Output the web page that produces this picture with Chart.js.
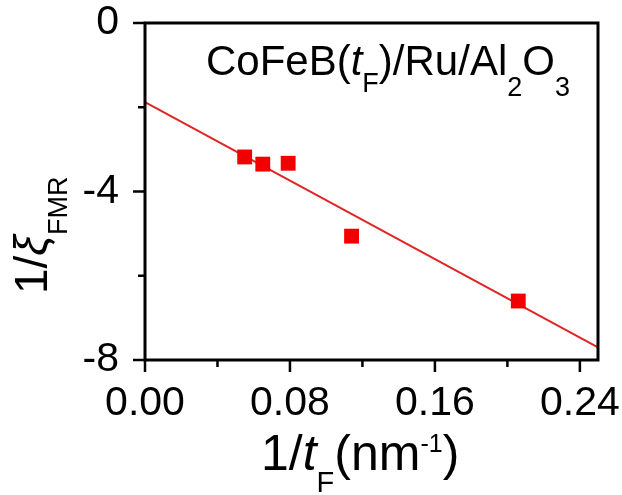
<!DOCTYPE html>
<html>
<head>
<meta charset="utf-8">
<script src="https://cdn.jsdelivr.net/npm/chart.js@4.4.1/dist/chart.umd.min.js"></script>
<style>
  html, body { margin: 0; padding: 0; background: #fff; }
  canvas { display: block; }
</style>
</head>
<body>
<canvas id="chart" width="622" height="495"></canvas>
<script>
// data
const invThickness = [0.055, 0.065, 0.079, 0.114, 0.206];   // 1/tF (nm^-1)
const invXi = [-3.18, -3.35, -3.33, -5.06, -6.60];          // 1/xi_FMR
const fitX = [0, 0.25];
const fitY = [-1.88, -7.70];

const xMajor = [0, 0.08, 0.16, 0.24];
const xMinor = [0.04, 0.12, 0.20];
const yMajor = [0, -4, -8];
const yMinor = [-2, -6];

const FONT = "'Liberation Sans', Arial, sans-serif";

// draws a run of text pieces (normal / italic / sub / sup) one after another
function drawRich(ctx, parts, x, y) {
  let cx = x;
  parts.forEach(p => {
    ctx.font = (p.italic ? 'italic ' : '') + p.size + 'px ' + FONT;
    ctx.fillText(p.t, cx, y + (p.dy || 0));
    cx += ctx.measureText(p.t).width;
  });
}

function noPad(s) {
  s.paddingLeft = 0; s.paddingRight = 0; s.paddingTop = 0; s.paddingBottom = 0;
}

const decorPlugin = {
  id: 'decor',
  afterDraw(chart) {
    const { ctx, chartArea: a, scales } = chart;
    const xs = scales.x, ys = scales.y;
    ctx.save();
    ctx.strokeStyle = '#000';
    ctx.lineWidth = 3;
    ctx.strokeRect(a.left, a.top, a.right - a.left, a.bottom - a.top);

    // tick marks, outward
    ctx.lineWidth = 2.5;
    ctx.beginPath();
    xMajor.forEach(v => { const px = xs.getPixelForValue(v); ctx.moveTo(px, a.bottom); ctx.lineTo(px, a.bottom + 12); });
    xMinor.forEach(v => { const px = xs.getPixelForValue(v); ctx.moveTo(px, a.bottom); ctx.lineTo(px, a.bottom + 7); });
    yMajor.forEach(v => { const py = ys.getPixelForValue(v); ctx.moveTo(a.left, py); ctx.lineTo(a.left - 12, py); });
    yMinor.forEach(v => { const py = ys.getPixelForValue(v); ctx.moveTo(a.left, py); ctx.lineTo(a.left - 7, py); });
    ctx.stroke();

    ctx.fillStyle = '#000';
    ctx.textBaseline = 'alphabetic';
    ctx.textAlign = 'left';

    // sample label
    drawRich(ctx, [
      { t: 'CoFeB(', size: 42 },
      { t: 't', size: 42, italic: true },
      { t: 'F', size: 27, dy: 17 },
      { t: ')/Ru/Al', size: 42 },
      { t: '2', size: 27, dy: 21 },
      { t: 'O', size: 42 },
      { t: '3', size: 27, dy: 21 }
    ], 206, 75);

    // x title
    drawRich(ctx, [
      { t: '1/', size: 50 },
      { t: 't', size: 50, italic: true },
      { t: 'F', size: 29, dy: 22 },
      { t: '(nm', size: 50 },
      { t: '-1', size: 25, dy: -18 },
      { t: ')', size: 50 }
    ], 261, 470);

    // y title, rotated
    ctx.translate(47, 294);
    ctx.rotate(-Math.PI / 2);
    drawRich(ctx, [
      { t: '1/', size: 46 },
      { t: 'ξ', size: 46, italic: true },
      { t: 'FMR', size: 27, dy: 20 }
    ], 0, 0);
    ctx.restore();
  }
};

new Chart(document.getElementById('chart'), {
  type: 'scatter',
  data: {
    datasets: [
      {
        data: invThickness.map((x, i) => ({ x, y: invXi[i] })),
        pointStyle: 'rect',
        pointRadius: 10.5,
        pointHoverRadius: 10.5,
        backgroundColor: '#f20000',
        borderWidth: 0
      },
      {
        data: fitX.map((x, i) => ({ x, y: fitY[i] })),
        showLine: true,
        borderColor: '#e02424',
        borderWidth: 2,
        pointRadius: 0
      }
    ]
  },
  options: {
    responsive: false,
    animation: false,
    layout: { padding: { top: 23, right: 24, left: 0, bottom: 0 } },
    plugins: { legend: { display: false }, tooltip: { enabled: false } },
    scales: {
      x: {
        type: 'linear',
        min: 0,
        max: 0.25,
        grid: { display: false },
        border: { display: false },
        afterBuildTicks: s => { s.ticks = xMajor.map(v => ({ value: v })); },
        afterFit: s => { s.height = 135; noPad(s); },
        ticks: {
          color: '#000',
          padding: 15,
          font: { family: FONT, size: 41, lineHeight: 1 },
          callback: v => v.toFixed(2)
        }
      },
      y: {
        type: 'linear',
        min: -8,
        max: 0,
        grid: { display: false },
        border: { display: false },
        afterBuildTicks: s => { s.ticks = yMajor.map(v => ({ value: v })); },
        afterFit: s => { s.width = 145; noPad(s); },
        ticks: {
          color: '#000',
          padding: 18,
          font: { family: FONT, size: 41, lineHeight: 1 },
          callback: v => String(v)
        }
      }
    }
  },
  plugins: [decorPlugin]
});
</script>
</body>
</html>
